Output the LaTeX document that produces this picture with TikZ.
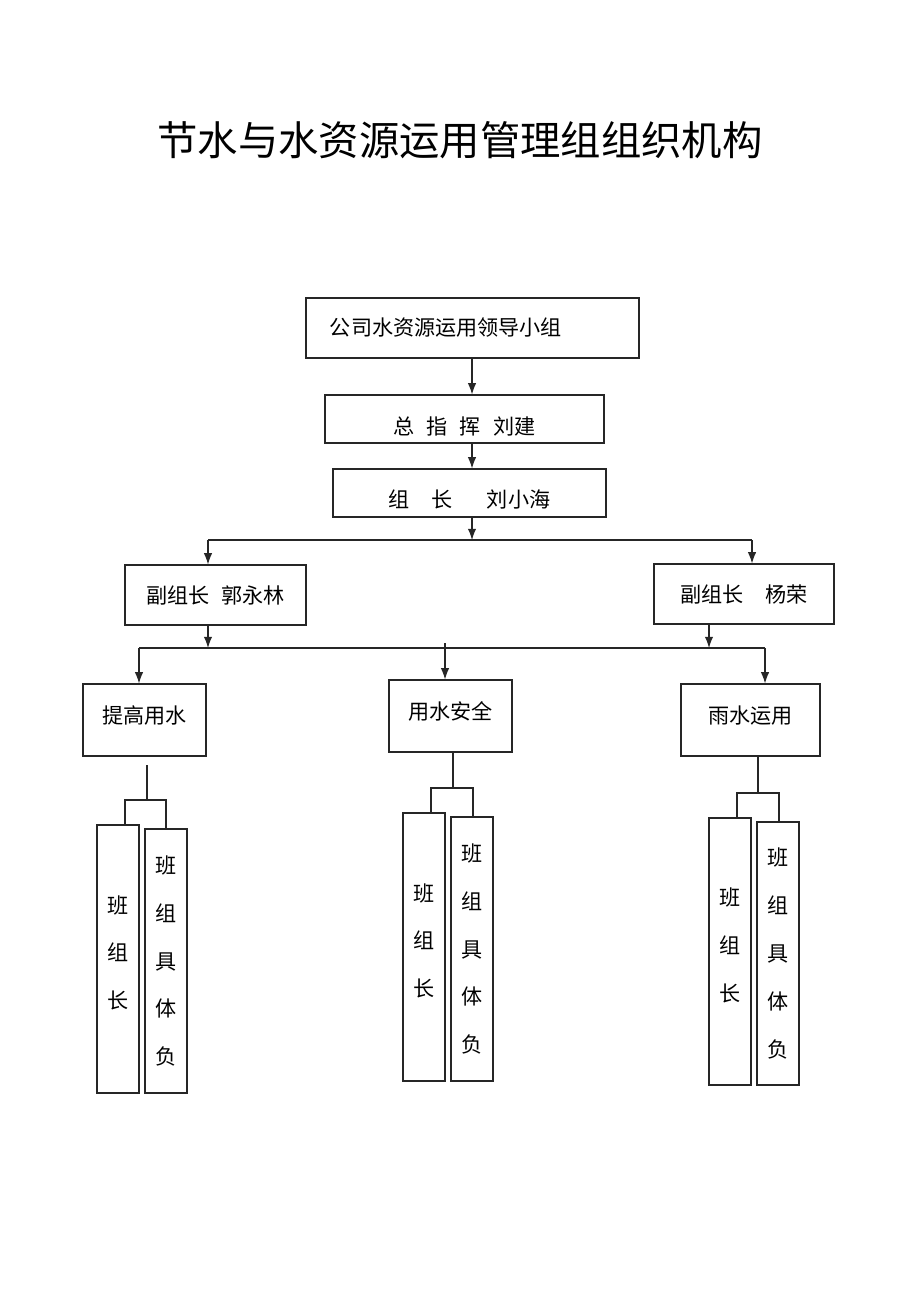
\documentclass[tikz,border=0pt]{standalone}
\usepackage{fontspec}
\setmainfont{Noto Sans CJK SC}
\usetikzlibrary{arrows.meta,positioning}

\begin{document}
\begin{tikzpicture}[
	x=0.025cm, y=-0.025cm,
	box/.style={rectangle, draw=black!85, line width=0.8pt, inner sep=0pt, font=\fontsize{15pt}{18pt}\selectfont},
	group/.style={box, minimum height=1.8cm, text height=0.975cm, text depth=0.825cm},
	tall/.style={box, minimum width=1.05cm, align=center, font=\fontsize{15pt}{34pt}\selectfont},
	link/.style={draw=black!85, line width=0.8pt},
	flow/.style={link, -{Latex[length=8pt,width=6pt]}}
	]
	\useasboundingbox (0,0) rectangle (920,1302);
	
	% Title
	\node[font=\fontsize{28.7pt}{32pt}\selectfont] (title) at (460,140) {节水与水资源运用管理组组织机构};
	
	% Leading chain
	\node[box, minimum height=1.5cm, text width=7.125cm, inner xsep=0.6cm, align=left] (lead) at (472.5,328) {公司水资源运用领导小组};
	\node[box, minimum width=6.975cm, minimum height=1.2cm, text height=0.975cm, text depth=0.225cm] (chief) at (464.5,419) {总\hspace{0.3cm}指\hspace{0.3cm}挥\hspace{0.3cm}刘建};
	\node[box, minimum width=6.825cm, minimum height=1.2cm, text height=0.95cm, text depth=0.25cm] (head) at (469.5,493) {组\hspace{0.55cm}长\hspace{0.85cm}刘小海};
	
	% Deputies
	\node[box, minimum width=4.525cm, minimum height=1.5cm] (dep1) at (215.5,595) {副组长\hspace{0.3cm}郭永林};
	\node[box, minimum width=4.5cm, minimum height=1.5cm] (dep2) at (744,594) {副组长\hspace{0.55cm}杨荣};
	
	% Working groups
	\node[group, minimum width=3.075cm] (raise) at (144.5,720) {提高用水\hspace{0.3cm}};
	\node[group, minimum width=3.075cm] (safe) at (450.5,716) {用水安全\hspace{0.25cm}};
	\node[group, minimum width=3.475cm] (rain) at (750.5,720) {雨水运用};
	
	% Team boxes
	\node[tall, minimum height=6.7cm] (L1) at (118,959) {班\\组\\长\\[-0.85cm]};
	\node[tall, minimum height=6.6cm] (L2) at (166,961) {班\\组\\具\\体\\负};
	\node[tall, minimum height=6.7cm] (M1) at (424,947) {班\\组\\长\\[-0.85cm]};
	\node[tall, minimum height=6.6cm] (M2) at (472,949) {班\\组\\具\\体\\负};
	\node[tall, minimum height=6.675cm] (R1) at (730,951.5) {班\\组\\长\\[-0.85cm]};
	\node[tall, minimum height=6.575cm] (R2) at (778,953.5) {班\\组\\具\\体\\负};
	
	% Branch points
	\coordinate (axis) at (472,0);
	\coordinate (s1) at (472,540);
	\coordinate (s1a) at (208,540);
	\coordinate (s1b) at (752,540);
	\coordinate (s2a) at (139,648);
	\coordinate (s2b) at (765,648);
	\coordinate (s2m) at (445,643);
	\coordinate (f-stem) at (147,765);
	\coordinate (f-a) at (125,800);
	\coordinate (f-b) at (166,800);
	\coordinate (g-a) at (431,788);
	\coordinate (g-b) at (473,788);
	\coordinate (h-a) at (737,793);
	\coordinate (h-b) at (779,793);
	
	% Connections
	\draw[flow] (axis |- lead.south) -- (axis |- chief.north);
	\draw[flow] (axis |- chief.south) -- (axis |- head.north);
	\draw[flow] (axis |- head.south) -- (s1);
	\draw[link] (s1a) -- (s1b);
	\draw[flow] (s1a) -- (s1a |- dep1.north);
	\draw[flow] (s1b) -- (s1b |- dep2.north);
	\draw[flow] (s1a |- dep1.south) -- (s1a |- s2a);
	\draw[flow] (709,0 |- dep2.south) -- (709,0 |- s2b);
	\draw[link] (s2a) -- (s2b);
	\draw[flow] (s2a) -- (s2a |- raise.north);
	\draw[flow] (s2m) -- (s2m |- safe.north);
	\draw[flow] (s2b) -- (s2b |- rain.north);
	
	% Team forks
	\draw[link] (f-stem) -- (f-stem |- f-a);
	\draw[link] (f-a |- L1.north) -- (f-a) -- (f-b) -- (f-b |- L2.north);
	\draw[link] (453,0 |- safe.south) -- (453,0 |- g-a);
	\draw[link] (g-a |- M1.north) -- (g-a) -- (g-b) -- (g-b |- M2.north);
	\draw[link] (758,0 |- rain.south) -- (758,0 |- h-a);
	\draw[link] (h-a |- R1.north) -- (h-a) -- (h-b) -- (h-b |- R2.north);
\end{tikzpicture}
\end{document}
